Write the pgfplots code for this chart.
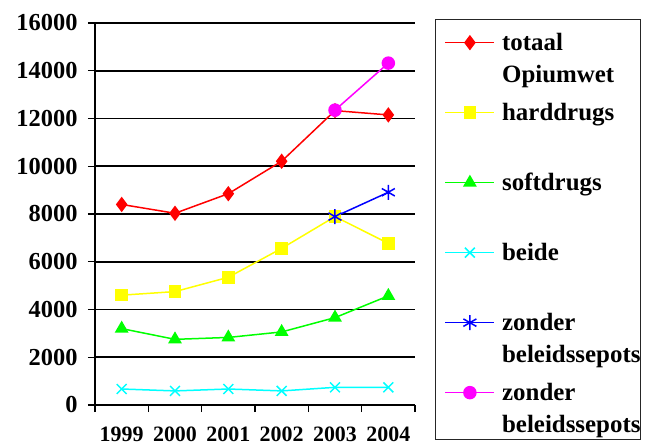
\documentclass[border=0pt]{standalone}
\usepackage{fontspec}
\setmainfont{Liberation Serif}
\usepackage{pgfplots}
\pgfplotsset{compat=1.18}
\definecolor{cRed}{RGB}{255,0,0}
\definecolor{cYellow}{RGB}{255,255,0}
\definecolor{cGreen}{RGB}{0,255,0}
\definecolor{cCyan}{RGB}{0,255,255}
\definecolor{cBlue}{RGB}{0,0,255}
\definecolor{cMagenta}{RGB}{255,0,255}
\begin{document}
\begin{tikzpicture}
\useasboundingbox (0,0) rectangle (654bp,446bp);
\begin{axis}[
  at={(95bp,41bp)}, anchor=south west,
  scale only axis, width=320bp, height=382bp,
  xmin=0, xmax=6, ymin=0, ymax=16000,
  xtick={0,1,2,3,4,5,6},
  xticklabels={1999,2000,2001,2002,2003,2004,},
  x tick label as interval,
  ytick={0,2000,4000,6000,8000,10000,12000,14000,16000},
  yticklabels={0,2000,4000,6000,8000,10000,12000,14000,16000},
  scaled y ticks=false,
  axis lines=left,
  axis line style={-, black, line width=1.6bp},
  ymajorgrids, grid style={black, line width=1.6bp},
  tick align=outside, major tick length=7bp,
  tick style={black, line width=1.2bp},
  yticklabel style={font=\fontsize{24.5}{24.5}\selectfont\bfseries, xshift=-7bp},
  xticklabel style={font=\fontsize{22}{22}\selectfont\bfseries, yshift=-11bp},
  legend cell align=left,
  legend image code/.code={
    \path (0bp,0bp) (65bp,10bp);
    \draw[mark repeat=2, mark phase=2, #1] plot coordinates {(9bp,8bp) (33.5bp,8bp) (58bp,8bp)};
  },
  legend style={at={(1,1)}, anchor=north west, xshift=20bp, yshift=4bp,
    draw=black!85, line width=1.3bp, inner sep=0pt, row sep=0pt, column sep=0pt,
    font=\fontsize{25}{32}\selectfont\bfseries,
    nodes={inner sep=0pt, text height=31bp, text depth=39bp, anchor=base west}},
  every axis plot/.append style={line width=1.5bp, mark options={solid}},
]
\addplot[cRed, mark=diamond*, mark size=6.5bp, mark options={fill=cRed}] coordinates {
  (0.5,8400) (1.5,8030) (2.5,8850) (3.5,10210) (4.5,12330) (5.5,12150)};
\addlegendentry{\begin{tabular}[t]{@{}l@{}}totaal\\Opiumwet\end{tabular}}
\addplot[cYellow, mark=square*, mark size=5.5bp, mark options={fill=cYellow}] coordinates {
  (0.5,4600) (1.5,4750) (2.5,5350) (3.5,6560) (4.5,7890) (5.5,6770)};
\addlegendentry{harddrugs}
\addplot[cGreen, mark=triangle*, mark size=6.5bp, mark options={fill=cGreen}] coordinates {
  (0.5,3200) (1.5,2750) (2.5,2830) (3.5,3060) (4.5,3660) (5.5,4570)};
\addlegendentry{softdrugs}
\addplot[cCyan, mark=x, mark size=7bp] coordinates {
  (0.5,670) (1.5,590) (2.5,670) (3.5,590) (4.5,740) (5.5,740)};
\addlegendentry{beide}
\addplot[cBlue, mark=asterisk, mark size=7.5bp] coordinates {
  (4.5,7890) (5.5,8910)};
\addlegendentry{\begin{tabular}[t]{@{}l@{}}zonder\\beleidssepots\end{tabular}}
\addplot[cMagenta, mark=*, mark size=6bp, mark options={fill=cMagenta}] coordinates {
  (4.5,12350) (5.5,14320)};
\addlegendentry{\begin{tabular}[t]{@{}l@{}}zonder\\beleidssepots\end{tabular}}
\draw[black!40, line width=0.8bp] (rel axis cs:1,0) -- (rel axis cs:1,1);
\end{axis}
\end{tikzpicture}
\end{document}
